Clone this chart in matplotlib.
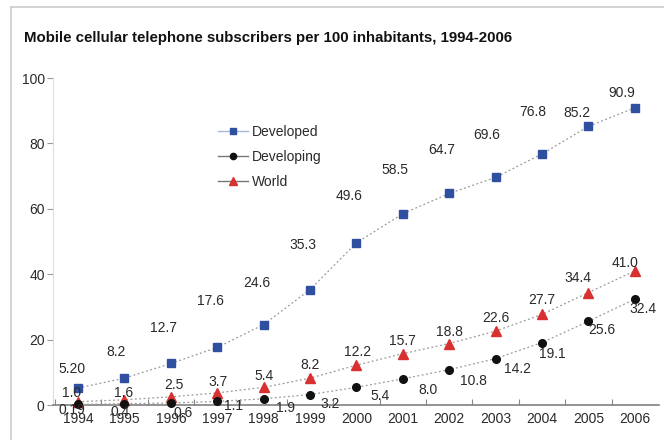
import matplotlib
matplotlib.use("Agg")
import matplotlib.pyplot as plt
from matplotlib.lines import Line2D

plt.rcParams['font.family'] = ['Liberation Sans', 'DejaVu Sans']

years = list(range(1994, 2007))
year_labels = [str(y) for y in years]
developed = [5.20, 8.2, 12.7, 17.6, 24.6, 35.3, 49.6, 58.5, 64.7, 69.6, 76.8, 85.2, 90.9]
developing = [0.19, 0.4, 0.6, 1.1, 1.9, 3.2, 5.4, 8.0, 10.8, 14.2, 19.1, 25.6, 32.4]
world = [1.0, 1.6, 2.5, 3.7, 5.4, 8.2, 12.2, 15.7, 18.8, 22.6, 27.7, 34.4, 41.0]
developed_lbl = ["5.20", "8.2", "12.7", "17.6", "24.6", "35.3", "49.6", "58.5", "64.7", "69.6", "76.8", "85.2", "90.9"]
developing_lbl = ["0.19", "0.4", "0.6", "1.1", "1.9", "3.2", "5.4", "8.0", "10.8", "14.2", "19.1", "25.6", "32.4"]
world_lbl = ["1.0", "1.6", "2.5", "3.7", "5.4", "8.2", "12.2", "15.7", "18.8", "22.6", "27.7", "34.4", "41.0"]

# label offsets in pixels (dx, dy) — style only
dev_off = [(-6, 19), (-8, 26), (-7, 35), (-7, 46), (-7, 42), (-7, 45), (-7, 47), (-8, 44), (-8, 43), (-9, 42), (-9, 42), (-12, 13), (-13, 15)]
devg_off = [(-6, -6), (-4, -8), (12, -10), (16, -5), (22, -9), (20, -9), (24, -9), (25, -11), (24, -11), (22, -10), (10, -11), (13, -9), (8, -10)]
wld_off = [(-6, 9), (-1, 7), (3, 12), (1, 11), (0, 11), (0, 13), (1, 13), (0, 13), (0, 12), (0, 13), (0, 14), (-11, 15), (-10, 8)]

W, H = 664, 440
fig = plt.figure(figsize=(W / 100, H / 100), dpi=100)
ax = fig.add_axes([53 / W, 1 - 405 / H, (659 - 53) / W, (405 - 78) / H])

txtc = '#2a2a2a'
lw = 0.9
ax.plot(years, developed, linestyle=(0, (1.5, 2)), color='#9a9a9a', lw=lw,
        marker='s', markersize=6, markerfacecolor='#2f4fa0', markeredgecolor='#2f4fa0', clip_on=False, zorder=3)
ax.plot(years, world, linestyle=(0, (1.5, 2)), color='#9a9a9a', lw=lw,
        marker='^', markersize=7, markerfacecolor='#d93030', markeredgecolor='#d93030', clip_on=False, zorder=3)
ax.plot(years, developing, linestyle=(0, (1.5, 2)), color='#9a9a9a', lw=lw,
        marker='o', markersize=5.5, markerfacecolor='#111111', markeredgecolor='#111111', clip_on=False, zorder=4)

for vals, lbls, offs in [(developed, developed_lbl, dev_off), (developing, developing_lbl, devg_off), (world, world_lbl, wld_off)]:
    for x, v, s, (dx, dy) in zip(years, vals, lbls, offs):
        ax.annotate(s, (x, v), xytext=(dx, dy), textcoords='offset pixels',
                    ha='center', va='center', fontsize=10, color=txtc, zorder=5, annotation_clip=False)

ax.set_xlim(1993.46, 2006.52)
ax.set_ylim(0, 100)
ax.set_xticks(years)
ax.set_xticklabels(year_labels)
ax.set_xticks([y + 0.5 for y in years[:-1]] + [1993.5], minor=True)
ax.tick_params(axis='x', which='major', length=0, pad=5, labelsize=10, labelcolor=txtc)
ax.tick_params(axis='x', which='minor', length=4, direction='in', color='#888888', width=0.8)
ax.set_yticks([0, 20, 40, 60, 80, 100])
ax.tick_params(axis='y', length=4, direction='out', color='#999999', width=0.8, pad=2, labelsize=10, labelcolor=txtc)

for s in ['top', 'right']:
    ax.spines[s].set_visible(False)
ax.spines['left'].set_color('#dddddd')
ax.spines['left'].set_linewidth(0.8)
ax.spines['bottom'].set_color('#808080')
ax.spines['bottom'].set_linewidth(1.2)
ax.patch.set_alpha(0)

fig.text(24 / W, 1 - 38 / H, 'Mobile cellular telephone subscribers per 100 inhabitants, 1994-2006',
         fontsize=10.8, fontweight='bold', color='#111111', ha='left', va='center')

# outer frame (left and top)
fig.add_artist(Line2D([11 / W, 11 / W], [0, 1 - 7 / H], transform=fig.transFigure, color='#cccccc', lw=1.2))
fig.add_artist(Line2D([11 / W, 1], [1 - 7 / H, 1 - 7 / H], transform=fig.transFigure, color='#cccccc', lw=1.2))

handles = [
    Line2D([], [], color='#a8b6d8', lw=1, marker='s', markersize=5, markerfacecolor='#2f4fa0', markeredgecolor='#2f4fa0'),
    Line2D([], [], color='#777777', lw=1, marker='o', markersize=4.5, markerfacecolor='#111111', markeredgecolor='#111111'),
    Line2D([], [], color='#777777', lw=1, marker='^', markersize=6, markerfacecolor='#d93030', markeredgecolor='#d93030'),
]
leg = fig.legend(handles, ['Developed', 'Developing', 'World'], loc='upper left',
                 bbox_to_anchor=(212 / W, 1 - 119 / H), frameon=False, fontsize=10,
                 handlelength=2.2, handletextpad=0.3, labelspacing=0.82, borderaxespad=0)
for t in leg.get_texts():
    t.set_color(txtc)

fig.savefig('out.png', dpi=100)
